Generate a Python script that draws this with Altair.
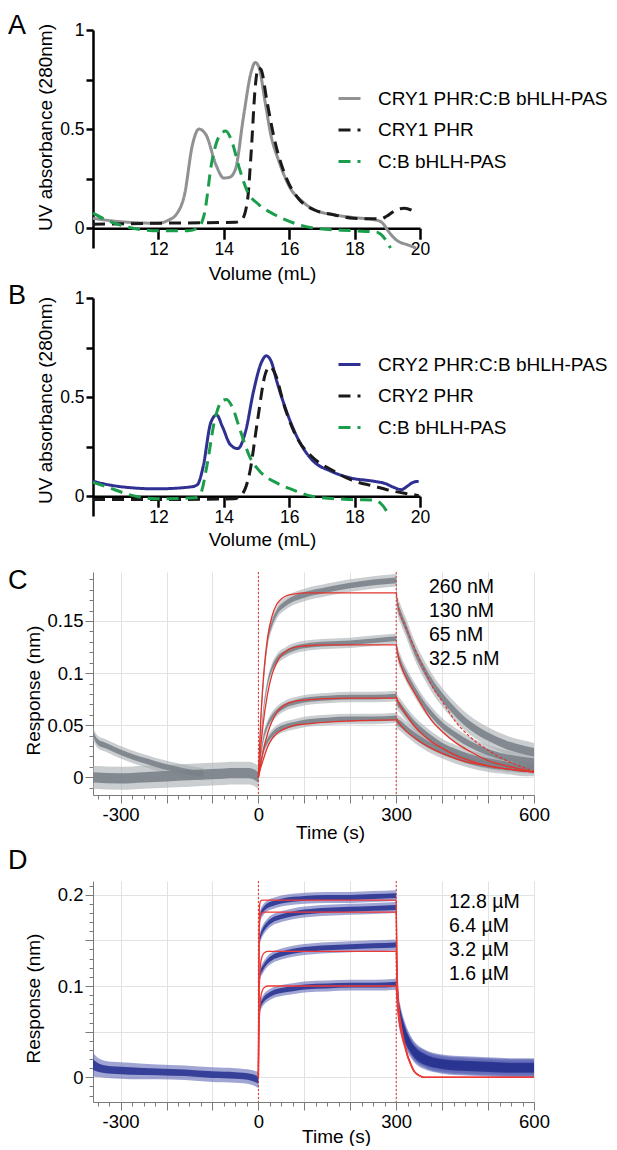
import altair as alt
import pandas as pd

FONT = "Liberation Sans"

# ---------------- Panel A : CRY1 size-exclusion ----------------
A_NAMES = ["CRY1 PHR:C:B bHLH-PAS", "CRY1 PHR", "C:B bHLH-PAS"]
A_complex_vol = [10, 10.75, 11.96, 12.3, 12.55, 12.8, 13.04, 13.24, 13.46, 13.76, 14.0, 14.18, 14.36,
                 14.6, 14.84, 14.96, 15.08, 15.26, 15.44, 15.68, 16.04, 16.4, 16.76, 17.36, 17.96,
                 18.68, 18.86, 19.04, 19.28, 19.64, 19.88]
A_complex_abs = [0.05, 0.034, 0.025, 0.04, 0.07, 0.17, 0.42, 0.50, 0.47, 0.32, 0.253, 0.257, 0.30,
                 0.56, 0.79, 0.836, 0.81, 0.64, 0.47, 0.34, 0.20, 0.135, 0.093, 0.068, 0.054,
                 0.04, 0.025, -0.017, -0.06, -0.085, -0.10]
A_phr_vol = [10, 12, 14.36, 14.54, 14.72, 14.84, 14.96, 15.06, 15.14, 15.32, 15.56, 15.92, 16.28,
             16.76, 17.36, 17.96, 18.8, 18.98, 19.28, 19.52, 19.82]
A_phr_abs = [0.02, 0.025, 0.03, 0.04, 0.135, 0.39, 0.71, 0.81, 0.80, 0.64, 0.44, 0.25, 0.15,
             0.093, 0.068, 0.05, 0.047, 0.06, 0.093, 0.10, 0.085]
A_cb_vol = [10, 10.4, 11, 12, 12.92, 13.2, 13.4, 13.64, 13.88, 14.06, 14.24, 14.48, 14.72, 15.08,
            15.56, 16.16, 16.76, 17.96, 18.68, 18.86, 19.1]
A_cb_abs = [0.076, 0.042, 0.008, -0.013, -0.013, 0.0, 0.068, 0.34, 0.47, 0.49, 0.44, 0.30, 0.186, 0.118,
            0.068, 0.025, 0.0, -0.013, -0.02, -0.04, -0.10]

# ---------------- Panel B : CRY2 size-exclusion ----------------
B_NAMES = ["CRY2 PHR:C:B bHLH-PAS", "CRY2 PHR", "C:B bHLH-PAS"]
B_complex_vol = [10, 10.75, 11.94, 13.0, 13.19, 13.37, 13.6, 13.78, 13.96, 14.2, 14.43, 14.67, 14.91,
                 15.15, 15.3, 15.45, 15.62, 15.98, 16.34, 16.7, 17.29, 17.88, 18.6, 18.95, 19.19,
                 19.43, 19.61, 19.79, 19.96]
B_complex_abs = [0.075, 0.05, 0.037, 0.047, 0.058, 0.15, 0.37, 0.41, 0.35, 0.26, 0.24, 0.33, 0.53,
                 0.675, 0.708, 0.68, 0.58, 0.40, 0.267, 0.183, 0.125, 0.092, 0.075, 0.063, 0.045,
                 0.033, 0.05, 0.07, 0.075]
B_phr_vol = [10, 11.94, 14.31, 14.55, 14.79, 15.03, 15.27, 15.41, 15.57, 15.86, 16.22, 16.69, 17.29,
             17.88, 18.6, 19.19, 19.79, 19.96]
B_phr_abs = [-0.017, -0.017, -0.013, 0.008, 0.117, 0.38, 0.617, 0.653, 0.617, 0.45, 0.30, 0.20, 0.133,
             0.083, 0.05, 0.025, 0.008, 0.003]
B_cb_vol = [10, 10.5, 11.1, 11.94, 13.13, 13.3, 13.48, 13.72, 13.96, 14.08, 14.26, 14.5, 14.79, 15.15,
            15.62, 16.22, 16.69, 17.88, 18.6, 18.83, 19.07]
B_cb_abs = [0.07, 0.042, 0.008, -0.013, -0.008, 0.017, 0.15, 0.383, 0.483, 0.488, 0.45, 0.333, 0.2, 0.117,
            0.067, 0.025, 0.0, -0.017, -0.02, -0.042, -0.1]

# ---------------- Panel C : BLI, CRY1 (nM) ----------------
C_LABELS = ["260 nM", "130 nM", "65 nM", "32.5 nM"]
C_base_t = [-360, -300, -250, -200, -150, -100, -50, -20, 0]
C_base_v = [0.0, -0.001, 0.0, 0.001, 0.002, 0.003, 0.004, 0.004, 0.0]
C_base_hw = 0.011
C_base2_t = [-360, -350, -330, -300, -270, -240, -210, -180, -150, -120]
C_base2_v = [0.042, 0.034, 0.03, 0.024, 0.019, 0.015, 0.011, 0.008, 0.005, 0.003]
C_base2_hw = 0.006
C_assoc_t = [0, 5, 10, 20, 30, 40, 60, 80, 100, 150, 200, 250, 300]
C_assoc_v = [
    [0.0, 0.05, 0.085, 0.13, 0.148, 0.158, 0.167, 0.172, 0.175, 0.180, 0.184, 0.187, 0.189],
    [0.0, 0.035, 0.06, 0.09, 0.105, 0.113, 0.12, 0.124, 0.126, 0.128, 0.129, 0.131, 0.133],
    [0.0, 0.02, 0.035, 0.05, 0.058, 0.063, 0.069, 0.072, 0.074, 0.076, 0.077, 0.077, 0.078],
    [0.0, 0.013, 0.024, 0.035, 0.041, 0.045, 0.049, 0.051, 0.053, 0.055, 0.056, 0.056, 0.057],
]
C_dissoc_t = [300, 302, 310, 320, 340, 360, 380, 400, 430, 460, 500, 540, 580, 600]
C_dissoc_v = [
    [0.189, 0.168, 0.156, 0.145, 0.122, 0.104, 0.089, 0.077, 0.062, 0.050, 0.039, 0.031, 0.026, 0.024],
    [0.133, 0.122, 0.110, 0.100, 0.084, 0.070, 0.059, 0.050, 0.040, 0.032, 0.024, 0.019, 0.016, 0.015],
    [0.078, 0.073, 0.068, 0.062, 0.051, 0.043, 0.036, 0.030, 0.024, 0.019, 0.015, 0.012, 0.011, 0.010],
    [0.057, 0.054, 0.051, 0.047, 0.040, 0.034, 0.029, 0.025, 0.020, 0.016, 0.012, 0.010, 0.008, 0.008],
]
C_assoc_hw = [0.006, 0.005, 0.005, 0.005]
C_dissoc_hw = [0.009, 0.007, 0.007, 0.007]
C_fit_a_t = [0, 5, 10, 20, 30, 40, 50, 60, 80, 100, 150, 200, 300]
C_fit_a_v = [
    [0, 0.054, 0.09, 0.134, 0.155, 0.166, 0.171, 0.174, 0.176, 0.177, 0.177, 0.177, 0.177],
    [0, 0.028, 0.05, 0.08, 0.099, 0.11, 0.117, 0.121, 0.125, 0.126, 0.127, 0.127, 0.127],
    [0, 0.013, 0.024, 0.042, 0.054, 0.062, 0.067, 0.07, 0.073, 0.074, 0.0755, 0.076, 0.076],
    [0, 0.009, 0.016, 0.029, 0.037, 0.042, 0.045, 0.047, 0.05, 0.051, 0.053, 0.054, 0.055],
]
C_fit_d_t = [300, 305, 320, 340, 360, 380, 400, 430, 460, 500, 540, 580, 600]
C_fit_d_v = [
    [0.177, 0.163, 0.145, 0.124, 0.104, 0.086, 0.073, 0.053, 0.039, 0.026, 0.016, 0.009, 0.006],
    [0.127, 0.115, 0.097, 0.081, 0.066, 0.053, 0.044, 0.033, 0.025, 0.016, 0.011, 0.007, 0.005],
    [0.077, 0.072, 0.061, 0.049, 0.040, 0.033, 0.028, 0.021, 0.016, 0.011, 0.008, 0.006, 0.005],
    [0.056, 0.053, 0.045, 0.038, 0.032, 0.027, 0.023, 0.018, 0.014, 0.011, 0.008, 0.006, 0.005],
]

# ---------------- Panel D : BLI, CRY2 (µM) ----------------
D_LABELS = ["12.8 µM", "6.4 µM", "3.2 µM", "1.6 µM"]
D_base_t = [-360, -345, -320, -280, -220, -160, -100, -50, -15, 0]
D_base_v = [0.014, 0.010, 0.008, 0.007, 0.006, 0.005, 0.003, 0.002, 0.0, -0.003]
D_base_hw = [0.013, 0.010, 0.009, 0.009, 0.008, 0.008, 0.008, 0.008, 0.008, 0.009]
D_assoc_t = [0, 2, 5, 10, 20, 30, 50, 75, 100, 150, 200, 250, 300]
D_assoc_v = [
    [0.0, 0.17, 0.178, 0.183, 0.188, 0.19, 0.193, 0.195, 0.196, 0.197, 0.197, 0.198, 0.199],
    [0.0, 0.148, 0.155, 0.161, 0.168, 0.172, 0.176, 0.179, 0.181, 0.183, 0.184, 0.185, 0.186],
    [0.0, 0.108, 0.115, 0.12, 0.127, 0.131, 0.135, 0.138, 0.14, 0.142, 0.143, 0.144, 0.145],
    [0.0, 0.072, 0.079, 0.084, 0.089, 0.092, 0.095, 0.097, 0.099, 0.1, 0.101, 0.101, 0.102],
]
D_dissoc_t = [300, 302, 305, 310, 315, 320, 330, 340, 360, 400, 450, 500, 550, 600]
D_dissoc_v = [
    [0.199, 0.12, 0.085, 0.068, 0.058, 0.05, 0.038, 0.030, 0.022, 0.016, 0.014, 0.013, 0.012, 0.012],
    [0.186, 0.11, 0.08, 0.064, 0.055, 0.047, 0.036, 0.028, 0.021, 0.015, 0.013, 0.012, 0.011, 0.011],
    [0.145, 0.095, 0.074, 0.06, 0.051, 0.044, 0.034, 0.027, 0.02, 0.014, 0.012, 0.011, 0.010, 0.010],
    [0.102, 0.085, 0.068, 0.055, 0.047, 0.041, 0.032, 0.025, 0.018, 0.013, 0.011, 0.010, 0.009, 0.009],
]
D_assoc_hw = [0.006, 0.006, 0.006, 0.006]
D_dissoc_hw = [0.009, 0.009, 0.009, 0.009]
D_fit_a_t = [0, 1, 2, 3, 5, 8, 12, 20, 40, 300]
D_fit_a_v = [
    [0, 0.12, 0.175, 0.19, 0.193, 0.194, 0.194, 0.194, 0.194, 0.194],
    [0, 0.10, 0.155, 0.172, 0.178, 0.18, 0.181, 0.181, 0.181, 0.181],
    [0, 0.06, 0.095, 0.112, 0.125, 0.132, 0.136, 0.138, 0.138, 0.138],
    [0, 0.04, 0.062, 0.075, 0.087, 0.094, 0.098, 0.1, 0.1, 0.1],
]
D_fit_d_t = [300, 302, 305, 310, 315, 320, 325, 330, 335, 340, 350, 360, 600]
D_fit_d_v = [
    [0.194, 0.12, 0.08, 0.06, 0.045, 0.034, 0.024, 0.017, 0.011, 0.006, 0.002, 0.0, 0.0],
    [0.181, 0.115, 0.078, 0.058, 0.044, 0.033, 0.024, 0.017, 0.011, 0.006, 0.002, 0.0, 0.0],
    [0.138, 0.1, 0.073, 0.055, 0.042, 0.032, 0.023, 0.016, 0.01, 0.006, 0.002, 0.0, 0.0],
    [0.1, 0.085, 0.067, 0.052, 0.04, 0.031, 0.022, 0.016, 0.01, 0.006, 0.002, 0.0, 0.0],
]

INJECTIONS = [0, 300]

# axis tick lists
X_TICKS_BLI = list(range(-350, 601, 25))
X_MAJOR_BLI = [-300, -200, -100, 0, 100, 200, 300, 400, 500, 600]
X_LABELED_BLI = [-300, 0, 300, 600]
YC_TICKS = [-0.01, 0.0, 0.01, 0.02, 0.03, 0.04, 0.05, 0.06, 0.07, 0.08, 0.09, 0.1, 0.11, 0.12,
            0.13, 0.14, 0.15, 0.16, 0.17, 0.18, 0.19]
YC_MAJOR = [0.0, 0.05, 0.1, 0.15]
YC_LABELED = [0.0, 0.05, 0.1, 0.15]
YD_TICKS = [-0.02, -0.01, 0.0, 0.01, 0.02, 0.03, 0.04, 0.05, 0.06, 0.07, 0.08, 0.09, 0.1, 0.11,
            0.12, 0.13, 0.14, 0.15, 0.16, 0.17, 0.18, 0.19, 0.2, 0.21]
YD_MAJOR = [0.0, 0.05, 0.1, 0.15, 0.2]
YD_LABELED = [0.0, 0.1, 0.2]


# ---------------- helpers ----------------
def sec_df(names, vols, vals):
    rows = []
    for n, vs, ys in zip(names, vols, vals):
        for v, y in zip(vs, ys):
            rows.append({"series": n, "vol": v, "abs": y})
    return pd.DataFrame(rows)


def letter_layer(letter, y):
    return alt.Chart(pd.DataFrame({"l": [letter]})).mark_text(
        align="left", baseline="alphabetic", fontSize=27, font=FONT, color="black"
    ).encode(text="l:N", x=alt.value(-85), y=alt.value(y))


def sec_panel(df, names, colors, letter, letter_y, legend_y, ytitle_y, xtitle_y):
    x = alt.X("vol:Q", scale=alt.Scale(domain=[10, 20], nice=False, zero=False),
              axis=alt.Axis(values=[12, 14, 16, 18, 20], format="d", offset=-19.8,
                            tickSize=11, tickWidth=2.5, tickColor="black",
                            domainColor="black", domainWidth=2.5, labelFontSize=17.5,
                            labelPadding=1, labelFlush=False, labelOverlap=False, grid=False,
                            title="Volume (mL)", titleX=169, titleY=xtitle_y,
                            titleBaseline="middle", titleFontSize=19))
    y = alt.Y("abs:Q", scale=alt.Scale(domain=[-0.1, 1], nice=False, zero=False),
              axis=alt.Axis(values=[0, 0.25, 0.5, 0.75, 1], format="~g",
                            labelExpr="datum.value == 0.25 || datum.value == 0.75 ? '' : datum.label",
                            tickSize=7, tickWidth=2.5, tickColor="black",
                            domainColor="black", domainWidth=2.5, labelFontSize=17.5,
                            labelPadding=2, labelOverlap=False, grid=False,
                            title="UV absorbance (280nm)", titleX=-48, titleY=ytitle_y,
                            titleAngle=-90, titleAlign="center", titleBaseline="middle",
                            titleFontSize=19))
    leg = alt.Legend(title=None, orient="none", legendX=244, legendY=legend_y,
                     labelFontSize=19, labelLimit=400, symbolSize=484, symbolStrokeWidth=3,
                     labelOffset=16, rowPadding=8.5, padding=0, symbolType="stroke")
    color = alt.Color("series:N", scale=alt.Scale(domain=names, range=colors), legend=leg)
    dash = alt.StrokeDash("series:N",
                          scale=alt.Scale(domain=names, range=[[1, 0], [12, 7], [12, 7]]),
                          legend=leg)
    base = alt.Chart(df).mark_line(strokeWidth=3, interpolate="monotone").encode(
        x=x, y=y, color=color, strokeDash=dash)
    layers = [base.transform_filter(alt.datum.series == n) for n in names]
    layers.append(letter_layer(letter, letter_y))
    return alt.layer(*layers).properties(width=327, height=218)


def band_rows(key, ts, vs, hw):
    hws = hw if isinstance(hw, list) else [hw] * len(ts)
    out = []
    for t, v, h in zip(ts, vs, hws):
        out.append({"key": key, "t": t, "lo": v - h, "hi": v + h,
                    "lo2": v - 0.45 * h, "hi2": v + 0.45 * h})
    return out


def fit_rows(key, ts, vs):
    return [{"key": key, "t": t, "v": v} for t, v in zip(ts, vs)]


def in_list(vals):
    return "indexof([" + ",".join(repr(v) for v in vals) + "], datum.value) >= 0"


def bli_panel(bands, fits, dashed_fits, ydom, yticks, ymajor, ylabeled, labels, label_x, label_y,
              letter, letter_y, height, outer_col, inner_col, fit_col, ytitle_y, xtitle_x,
              xtitle_y):
    xs = alt.Scale(domain=[-360, 600], nice=False, zero=False)
    ys = alt.Scale(domain=ydom, nice=False, zero=False)
    major_x = in_list(X_MAJOR_BLI)
    major_y = in_list(ymajor)
    xaxis = alt.Axis(values=X_TICKS_BLI, format="d",
                     labelExpr=in_list(X_LABELED_BLI) + " ? '' + datum.value : ''",
                     tickSize=8, tickWidth=1, tickColor="#7a7a7a",
                     tickDash={"condition": {"test": major_x, "value": [8, 0]}, "value": [4, 20]},
                     grid=True, gridColor="#e2e2e2", gridWidth=1,
                     gridOpacity={"condition": {"test": major_x, "value": 1}, "value": 0},
                     domainColor="#7a7a7a", domainWidth=1, labelFontSize=18.5,
                     labelPadding=2, labelFlush=False, labelOverlap=False, labelBound=False,
                     title="Time (s)", titleX=xtitle_x, titleY=xtitle_y,
                     titleBaseline="middle", titleFontSize=19)
    yaxis = alt.Axis(values=yticks, format="~g",
                     labelExpr=in_list(ylabeled) + " ? datum.label : ''",
                     tickSize=8, tickWidth=1, tickColor="#7a7a7a",
                     tickDash={"condition": {"test": major_y, "value": [8, 0]}, "value": [4, 20]},
                     grid=True, gridColor="#e2e2e2", gridWidth=1,
                     gridOpacity={"condition": {"test": major_y, "value": 1}, "value": 0},
                     domainColor="#7a7a7a", domainWidth=1, labelFontSize=18.5,
                     labelPadding=2, labelOverlap=False, labelBound=False,
                     title="Response (nm)", titleX=-60, titleY=ytitle_y,
                     titleAngle=-90, titleAlign="center", titleBaseline="middle",
                     titleFontSize=19)
    X = lambda f: alt.X(f, scale=xs, axis=xaxis)
    Y = lambda f: alt.Y(f, scale=ys, axis=yaxis)
    bdf = pd.DataFrame(bands)
    outer = alt.Chart(bdf).mark_area(interpolate="monotone", color=outer_col, opacity=0.6).encode(
        x=X("t:Q"), y=Y("lo:Q"), y2="hi:Q", detail="key:N")
    inner = alt.Chart(bdf).mark_area(interpolate="monotone", color=inner_col, opacity=0.9).encode(
        x=X("t:Q"), y=Y("lo2:Q"), y2="hi2:Q", detail="key:N")
    fit = alt.Chart(pd.DataFrame(fits)).mark_line(
        interpolate="monotone", color=fit_col, strokeWidth=1.3).encode(
        x=X("t:Q"), y=Y("v:Q"), detail="key:N")
    layers = [outer, inner, fit]
    if dashed_fits:
        layers.append(alt.Chart(pd.DataFrame(dashed_fits)).mark_line(
            interpolate="monotone", color=fit_col, strokeWidth=1.2, strokeDash=[3, 2]).encode(
            x=X("t:Q"), y=Y("v:Q"), detail="key:N"))
    inj = alt.Chart(pd.DataFrame({"t": INJECTIONS})).mark_rule(
        color="#e0302a", strokeWidth=1, strokeDash=[2, 2]).encode(x=X("t:Q"))
    txt = alt.Chart(pd.DataFrame({"s": ["\n".join(labels)]})).mark_text(
        align="left", baseline="top", fontSize=19.5, lineHeight=24, lineBreak="\n",
        font=FONT, color="black").encode(text="s:N", x=alt.value(label_x), y=alt.value(label_y))
    layers += [inj, txt, letter_layer(letter, letter_y)]
    return alt.layer(*layers).properties(width=441, height=height)


def spacer(h):
    return alt.Chart(pd.DataFrame({"v": [0]})).mark_point(opacity=0).encode(
        x=alt.X("v:Q", axis=None), y=alt.Y("v:Q", axis=None)).properties(width=10, height=h)


# ---------------- build panels ----------------
dfA = sec_df(A_NAMES, [A_complex_vol, A_phr_vol, A_cb_vol], [A_complex_abs, A_phr_abs, A_cb_abs])
dfB = sec_df(B_NAMES, [B_complex_vol, B_phr_vol, B_cb_vol], [B_complex_abs, B_phr_abs, B_cb_abs])

panelA = sec_panel(dfA, A_NAMES, ["#909193", "#1a1a1a", "#1b9e4b"], "A", 4, 56, 97, 45)
panelB = sec_panel(dfB, B_NAMES, ["#2e3192", "#1a1a1a", "#1b9e4b"], "B", 6, 54, 102, 43)

C_bands = band_rows("cb0", C_base_t, C_base_v, C_base_hw) + band_rows("cb1", C_base2_t, C_base2_v, C_base2_hw)
C_fits, C_dfits = [], []
for i in range(4):
    C_bands += band_rows("ca%d" % i, C_assoc_t, C_assoc_v[i], C_assoc_hw[i])
    C_bands += band_rows("cd%d" % i, C_dissoc_t, C_dissoc_v[i], C_dissoc_hw[i])
    C_fits += fit_rows("fa%d" % i, C_fit_a_t, C_fit_a_v[i])
    if i == 0:
        C_dfits += fit_rows("fd%d" % i, C_fit_d_t, C_fit_d_v[i])
    else:
        C_fits += fit_rows("fd%d" % i, C_fit_d_t, C_fit_d_v[i])

D_bands = band_rows("db0", D_base_t, D_base_v, D_base_hw)
D_fits = []
for i in range(4):
    D_bands += band_rows("da%d" % i, D_assoc_t, D_assoc_v[i], D_assoc_hw[i])
    D_bands += band_rows("dd%d" % i, D_dissoc_t, D_dissoc_v[i], D_dissoc_hw[i])
    D_fits += fit_rows("fa%d" % i, D_fit_a_t, D_fit_a_v[i])
    D_fits += fit_rows("fd%d" % i, D_fit_d_t, D_fit_d_v[i])

panelC = bli_panel(C_bands, C_fits, C_dfits, [-0.017, 0.197], YC_TICKS, YC_MAJOR, YC_LABELED,
                   C_LABELS, 336, 6, "C", 17, 223, "#a7adb1", "#7b8288", "#e2332d", 118, 237, 37)
panelD = bli_panel(D_bands, D_fits, [], [-0.027, 0.215], YD_TICKS, YD_MAJOR, YD_LABELED,
                   D_LABELS, 356, 12, "D", -12, 221, "#6069b8", "#2a3592", "#ee3a36", 117, 243, 34)

chart = alt.vconcat(panelA, spacer(50), panelB, spacer(56), panelC, spacer(86), panelD,
                    spacing=0, bounds="flush").resolve_scale(
    color="independent", strokeDash="independent").properties(
    padding={"top": 4, "left": 0, "right": 0, "bottom": 0}).configure(
    font=FONT).configure_view(stroke=None).configure_axis(
    labelFont=FONT, titleFont=FONT, titleFontWeight="normal", labelColor="black",
    titleColor="black").configure_legend(labelFont=FONT, labelColor="black")

chart.save("out.html", embed_options={"renderer": "svg", "actions": False})
